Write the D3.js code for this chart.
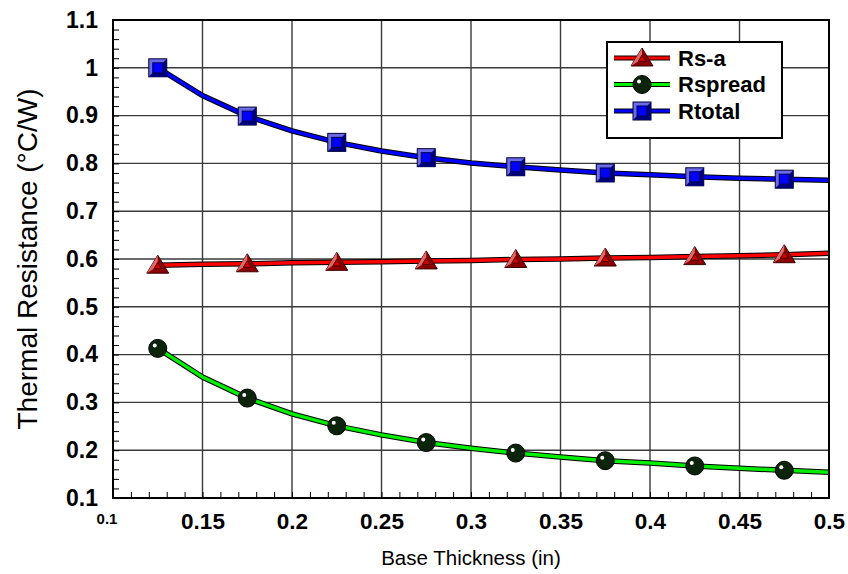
<!DOCTYPE html>
<html>
<head>
<meta charset="utf-8">
<script src="https://cdn.jsdelivr.net/npm/d3@7"></script>
<style>
  body { margin: 0; background: #fff; }
  svg text { font-family: "Liberation Sans", Arial, sans-serif; }
</style>
</head>
<body>
<div id="chart"></div>
<script>
// base thickness (in) - curve points every 0.025, markers on every other point
const thickness = [0.125, 0.15, 0.175, 0.2, 0.225, 0.25, 0.275, 0.3, 0.325, 0.35, 0.375, 0.4, 0.425, 0.45, 0.475, 0.5];
const rsa     = [0.587, 0.589, 0.590, 0.592, 0.593, 0.594, 0.596, 0.597, 0.599, 0.600, 0.602, 0.603, 0.605, 0.607, 0.609, 0.612];
const rspread = [0.413, 0.353, 0.309, 0.276, 0.251, 0.232, 0.216, 0.204, 0.194, 0.186, 0.178, 0.173, 0.167, 0.162, 0.158, 0.154];
const rtotal  = [1.000, 0.942, 0.899, 0.868, 0.844, 0.826, 0.812, 0.801, 0.793, 0.786, 0.780, 0.776, 0.772, 0.769, 0.767, 0.765];

const xTicks = [0.15, 0.2, 0.25, 0.3, 0.35, 0.4, 0.45, 0.5];
const yTicks = [0.1, 0.2, 0.3, 0.4, 0.5, 0.6, 0.7, 0.8, 0.9, 1.0, 1.1];
const seriesNames = ['Rs-a', 'Rspread', 'Rtotal'];

let W = 848, H = 574;
let marg = { left: 113, top: 20, right: 19, bot: 76 };
let pw = W - marg.left - marg.right, ph = H - marg.top - marg.bot;

const x = d3.scaleLinear().domain([0.1, 0.5]).range([0, pw]);
const y = d3.scaleLinear().domain([0.1, 1.1]).range([ph, 0]);

const svg = d3.select('#chart').append('svg').attr('width', W).attr('height', H);
const g = svg.append('g').attr('transform', 'translate(' + marg.left + ',' + marg.top + ')');

// grid
g.append('g').selectAll('line').data(xTicks.slice(0, -1)).enter().append('line')
	.attr('x1', d => x(d)).attr('x2', d => x(d)).attr('y1', 0).attr('y2', ph)
	.attr('stroke', '#3a3a3a').attr('stroke-width', 1.4);
g.append('g').selectAll('line').data(yTicks.slice(1, -1)).enter().append('line')
	.attr('y1', d => y(d)).attr('y2', d => y(d)).attr('x1', 0).attr('x2', pw)
	.attr('stroke', '#3a3a3a').attr('stroke-width', 1.4);

// minor ticks, inside
const xMinor = d3.range(0.11, 0.5, 0.01);
const yMinor = d3.range(0.12, 1.1, 0.02);
g.append('g').call(d3.axisTop(x).tickValues(xMinor).tickSize(6).tickFormat(''))
	.attr('transform', 'translate(0,' + ph + ')')
	.call(a => a.select('.domain').remove())
	.selectAll('line').attr('stroke', '#000').attr('stroke-width', 1);
g.append('g').call(d3.axisRight(y).tickValues(yMinor).tickSize(6).tickFormat(''))
	.call(a => a.select('.domain').remove())
	.selectAll('line').attr('stroke', '#000').attr('stroke-width', 1);

// tick labels
const fmt = d => d3.format('.2~f')(d);
const xl = g.append('g').call(d3.axisBottom(x).tickValues(xTicks).tickSize(0).tickPadding(15).tickFormat(fmt))
	.attr('transform', 'translate(0,' + ph + ')');
xl.select('.domain').remove();
xl.selectAll('text').attr('font-size', 22.5).attr('font-weight', 'bold').attr('fill', '#000')
	.attr('font-family', '"Liberation Sans", Arial, sans-serif');
g.append('text').attr('x', x(0.1) - 6).attr('y', ph + 25.5).attr('text-anchor', 'middle')
	.attr('font-size', 15).attr('font-weight', 'bold').text('0.1');

const yl = g.append('g').call(d3.axisLeft(y).tickValues(yTicks).tickSize(0).tickPadding(15).tickFormat(fmt));
yl.select('.domain').remove();
yl.selectAll('text').attr('font-size', 23).attr('font-weight', 'bold').attr('fill', '#000')
	.attr('font-family', '"Liberation Sans", Arial, sans-serif');

// axis titles
svg.append('text').attr('x', marg.left + pw / 2).attr('y', 565).attr('text-anchor', 'middle')
	.attr('font-size', 20.5).text('Base Thickness (in)');
svg.append('text').attr('transform', 'translate(37,' + (marg.top + ph / 2) + ') rotate(-90)')
	.attr('text-anchor', 'middle').attr('font-size', 28).text('Thermal Resistance (°C/W)');

// markers
function triangle(sel) {
	sel.append('path').attr('d', 'M0,-10L11,8L-11,8Z').attr('fill', '#8b0000').attr('stroke', '#3a0000').attr('stroke-width', 1);
	sel.append('path').attr('d', 'M0,-10L-11,8L-4,3.5L0,-3Z').attr('fill', '#e06a6a');
	sel.append('path').attr('d', 'M0,-3L4,3.5L-4,3.5Z').attr('fill', '#d00000').attr('stroke', '#400000').attr('stroke-width', 0.8);
}
function ball(sel) {
	sel.append('circle').attr('r', 9).attr('fill', '#0b240b').attr('stroke', '#000').attr('stroke-width', 1);
	sel.append('circle').attr('cx', -3).attr('cy', -3).attr('r', 2).attr('fill', '#fff');
}
function square(sel) {
	sel.append('rect').attr('x', -9).attr('y', -9).attr('width', 18).attr('height', 18).attr('fill', '#6b6be6').attr('stroke', '#000033').attr('stroke-width', 1);
	sel.append('path').attr('d', 'M9,-9L9,9L-9,9L-5,5L5,5L5,-5Z').attr('fill', '#00007a');
	sel.append('rect').attr('x', -5).attr('y', -5).attr('width', 10).attr('height', 10).attr('fill', '#0000ff').attr('stroke', '#000050').attr('stroke-width', 1);
}

const series = [
	{ name: seriesNames[0], vals: rsa, color: '#ff0000', mk: triangle },
	{ name: seriesNames[1], vals: rspread, color: '#00ee00', mk: ball },
	{ name: seriesNames[2], vals: rtotal, color: '#0000ff', mk: square }
];

const line = d3.line().x(d => x(d[0])).y(d => y(d[1]));
series.forEach(s => {
	let pts = thickness.map((t, i) => [t, s.vals[i]]);
	g.append('path').attr('d', line(pts)).attr('fill', 'none').attr('stroke', '#000').attr('stroke-width', 5.5);
	g.append('path').attr('d', line(pts)).attr('fill', 'none').attr('stroke', s.color).attr('stroke-width', 3.5);
});
series.forEach(s => {
	let pts = thickness.map((t, i) => [t, s.vals[i]]).filter((d, i) => i % 2 == 0 && i < thickness.length - 1);
	g.append('g').selectAll('g').data(pts).enter().append('g')
		.attr('transform', d => 'translate(' + x(d[0]) + ',' + y(d[1]) + ')')
		.each(function() { s.mk(d3.select(this)); });
});

// frame
g.append('rect').attr('width', pw).attr('height', ph).attr('fill', 'none').attr('stroke', '#000').attr('stroke-width', 2);

// legend
const lg = svg.append('g').attr('transform', 'translate(607,42)');
lg.append('rect').attr('width', 175).attr('height', 96).attr('fill', '#fff').attr('stroke', '#000').attr('stroke-width', 2);
series.forEach((s, i) => {
	let ly = 16 + i * 26.5;
	lg.append('line').attr('x1', 7).attr('x2', 63).attr('y1', ly).attr('y2', ly).attr('stroke', '#000').attr('stroke-width', 5);
	lg.append('line').attr('x1', 7).attr('x2', 63).attr('y1', ly).attr('y2', ly).attr('stroke', s.color).attr('stroke-width', 3);
	let m = lg.append('g').attr('transform', 'translate(35,' + ly + ')');
	s.mk(m);
	lg.append('text').attr('x', 71).attr('y', ly + 7.5).attr('font-size', 22).attr('font-weight', 'bold').text(s.name);
});
</script>
</body>
</html>
